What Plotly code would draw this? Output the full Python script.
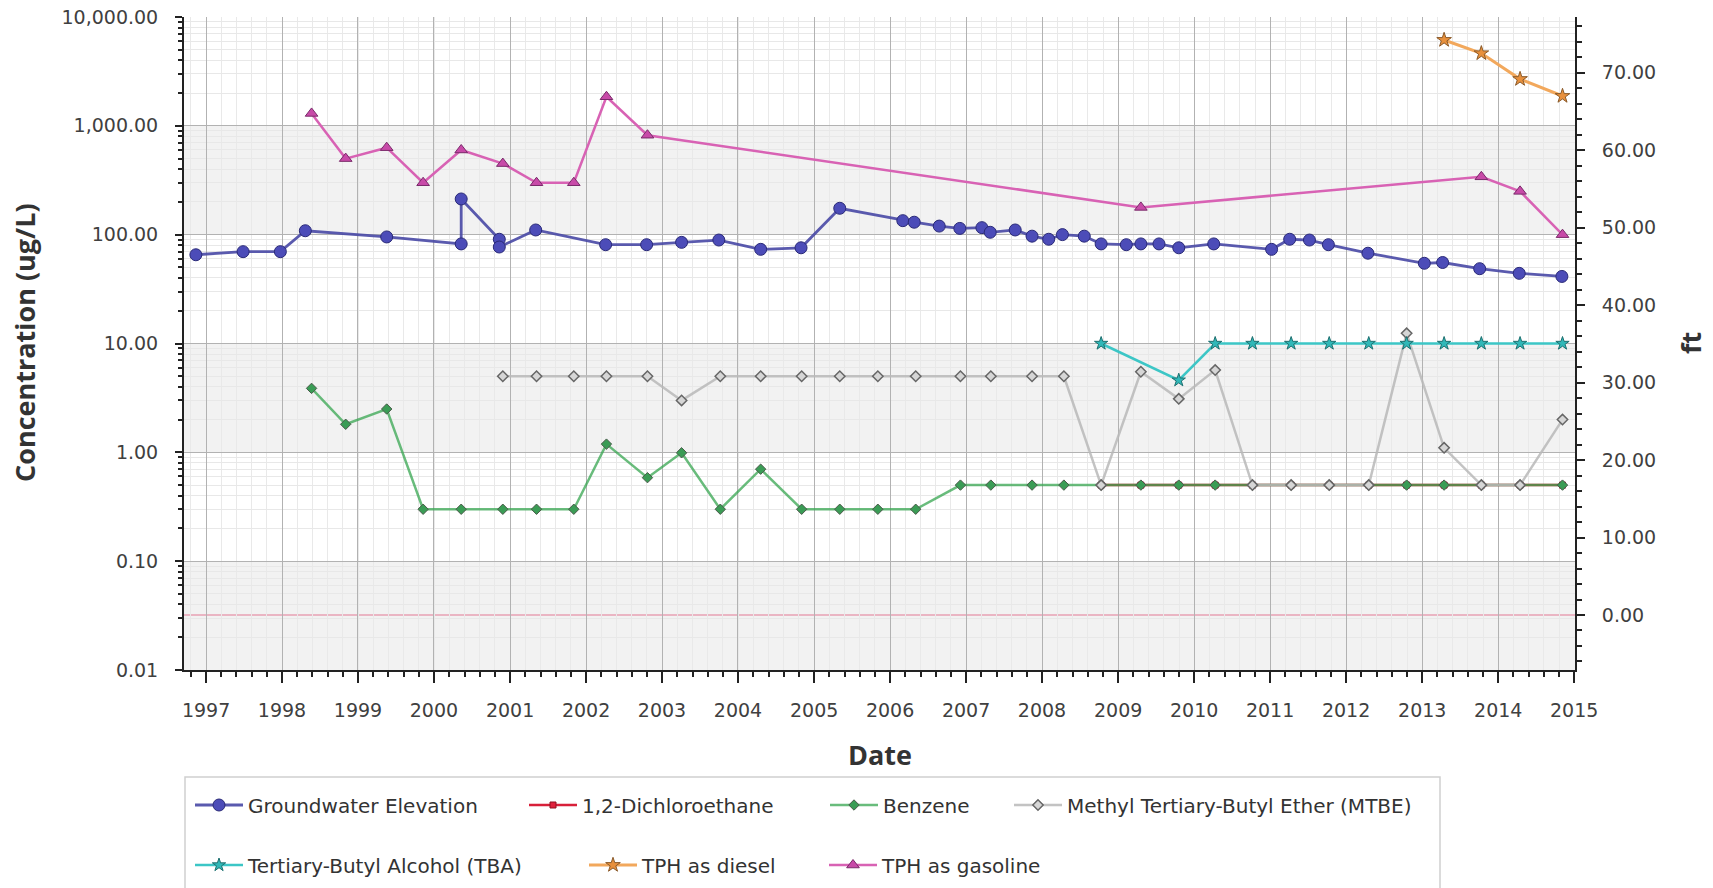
import plotly.graph_objects as go

# ---------------- data ----------------
gw_dates = ["1996-11-13", "1997-06-28", "1997-12-24", "1998-04-23", "1999-05-19",
            "2000-05-11", "2000-05-11", "2000-11-10", "2000-11-10", "2001-05-04",
            "2002-04-05", "2002-10-19", "2003-04-05", "2003-10-01", "2004-04-19",
            "2004-10-30", "2005-05-04", "2006-03-03", "2006-04-27", "2006-08-25",
            "2006-12-02", "2007-03-18", "2007-04-27", "2007-08-25", "2007-11-14",
            "2008-02-02", "2008-04-08", "2008-07-22", "2008-10-11", "2009-02-09",
            "2009-04-20", "2009-07-16", "2009-10-19", "2010-04-05", "2011-01-08",
            "2011-04-05", "2011-07-09", "2011-10-08", "2012-04-15", "2013-01-11",
            "2013-04-09", "2013-10-04", "2014-04-12", "2014-11-03"]
gw_ft = [46.5, 46.9, 46.9, 49.6, 48.8,
         47.9, 53.7, 48.5, 47.5, 49.7,
         47.8, 47.8, 48.1, 48.4, 47.2,
         47.4, 52.5, 50.9, 50.7, 50.2,
         49.9, 50.0, 49.4, 49.7, 48.9,
         48.5, 49.1, 48.9, 47.9, 47.8,
         47.9, 47.9, 47.4, 47.9, 47.2,
         48.5, 48.4, 47.8, 46.7, 45.4,
         45.5, 44.7, 44.1, 43.7]

benzene_dates = ["1998-05-23", "1998-11-03", "1999-05-19", "1999-11-10", "2000-05-11",
                 "2000-11-27", "2001-05-08", "2001-11-03", "2002-04-09", "2002-10-23",
                 "2003-04-05", "2003-10-08", "2004-04-19", "2004-11-02", "2005-05-04",
                 "2005-11-03", "2006-05-04", "2006-12-05", "2007-04-30", "2007-11-14",
                 "2008-04-15", "2008-10-11", "2009-04-20", "2009-10-19", "2010-04-12",
                 "2010-10-08", "2011-04-12", "2011-10-12", "2012-04-19", "2012-10-18",
                 "2013-04-16", "2013-10-12", "2014-04-16", "2014-11-06"]
benzene = [3.87, 1.81, 2.50, 0.30, 0.30,
           0.30, 0.30, 0.30, 1.19, 0.585,
           0.99, 0.30, 0.70, 0.30, 0.30,
           0.30, 0.30, 0.5, 0.5, 0.5,
           0.5, 0.5, 0.5, 0.5, 0.5,
           0.5, 0.5, 0.5, 0.5, 0.5,
           0.5, 0.5, 0.5, 0.5]

dca_dates = ["2008-10-11", "2009-04-20", "2009-10-19", "2010-04-12", "2010-10-08",
             "2011-04-12", "2011-10-12", "2012-04-19", "2012-10-18", "2013-04-16",
             "2013-10-12", "2014-04-16", "2014-11-06"]
dca = [0.5, 0.5, 0.5, 0.5, 0.5, 0.5, 0.5, 0.5, 0.5, 0.5, 0.5, 0.5, 0.5]

mtbe_dates = ["2000-11-27", "2001-05-08", "2001-11-03", "2002-04-09", "2002-10-23",
              "2003-04-05", "2003-10-08", "2004-04-19", "2004-11-02", "2005-05-04",
              "2005-11-03", "2006-05-04", "2006-12-05", "2007-04-30", "2007-11-14",
              "2008-04-15", "2008-10-11", "2009-04-20", "2009-10-19", "2010-04-12",
              "2010-10-08", "2011-04-12", "2011-10-12", "2012-04-19", "2012-10-18",
              "2013-04-16", "2013-10-12", "2014-04-16", "2014-11-06"]
mtbe = [5.0, 5.0, 5.0, 5.0, 5.0,
        3.0, 5.0, 5.0, 5.0, 5.0,
        5.0, 5.0, 5.0, 5.0, 5.0,
        5.0, 0.5, 5.5, 3.1, 5.7,
        0.5, 0.5, 0.5, 0.5, 12.4,
        1.1, 0.5, 0.5, 2.0]

tba_dates = ["2008-10-11", "2009-10-19", "2010-04-12", "2010-10-08", "2011-04-12",
             "2011-10-12", "2012-04-19", "2012-10-18", "2013-04-16", "2013-10-12",
             "2014-04-16", "2014-11-06"]
tba = [10.0, 4.6, 10.0, 10.0, 10.0, 10.0, 10.0, 10.0, 10.0, 10.0, 10.0, 10.0]

diesel_dates = ["2013-04-16", "2013-10-12", "2014-04-16", "2014-11-06"]
diesel = [6150, 4640, 2690, 1880]

gasoline_dates = ["1998-05-23", "1998-11-03", "1999-05-19", "1999-11-10", "2000-05-11",
                  "2000-11-27", "2001-05-08", "2001-11-03", "2002-04-09", "2002-10-23",
                  "2009-04-20", "2013-10-12", "2014-04-16", "2014-11-06"]
gasoline = [1300, 500, 630, 300, 600,
            450, 300, 300, 1850, 820,
            178, 340, 250, 100]

# ---------------- figure ----------------
W, H = 1713, 888
L, R, T, B = 184, 138, 17, 218
PW, PH = W - L - R, H - T - B


def px_x(x):
    return (x - L) / PW


def px_y(y):
    return (H - B - y) / PH


fig = go.Figure()

series = [
    dict(name="Groundwater Elevation", x=gw_dates, y=gw_ft, yaxis="y2",
         line=dict(color="rgba(72,72,165,0.9)", width=2.8),
         marker=dict(symbol="circle", size=12, color="#4c4cb8",
                     line=dict(color="#2a2a78", width=1))),
    dict(name="1,2-Dichloroethane", x=dca_dates, y=dca, yaxis="y",
         line=dict(color="#d8203a", width=2.5),
         marker=dict(symbol="square", size=6, color="#e0203c",
                     line=dict(color="#901020", width=1))),
    dict(name="Benzene", x=benzene_dates, y=benzene, yaxis="y",
         line=dict(color="rgba(55,165,80,0.75)", width=2.5),
         marker=dict(symbol="diamond", size=8, color="#3a9c55",
                     line=dict(color="#4a5a4a", width=1))),
    dict(name="Methyl Tertiary-Butyl Ether (MTBE)", x=mtbe_dates, y=mtbe, yaxis="y",
         line=dict(color="rgba(185,185,185,0.85)", width=2.5),
         marker=dict(symbol="diamond", size=8, color="#d6d6d6",
                     line=dict(color="#666666", width=1.5))),
    dict(name="Tertiary-Butyl Alcohol (TBA)", x=tba_dates, y=tba, yaxis="y",
         line=dict(color="#3cc6c6", width=2.5),
         marker=dict(symbol="star", size=10, color="#30b8b8",
                     line=dict(color="#1d6f6f", width=1))),
    dict(name="TPH as diesel", x=diesel_dates, y=diesel, yaxis="y",
         line=dict(color="#f2a85c", width=3),
         marker=dict(symbol="star", size=11, color="#e8903c",
                     line=dict(color="#8a5a2a", width=1))),
    dict(name="TPH as gasoline", x=gasoline_dates, y=gasoline, yaxis="y",
         line=dict(color="#d862b4", width=2.5),
         marker=dict(symbol="triangle-up", size=11, color="#c84aa8",
                     line=dict(color="#7a2a6a", width=1))),
]

# legend placement (pixel positions of each entry)
legend_pos = [(190, 805), (524, 805), (825, 805), (1009, 805),
              (190, 865), (584, 865), (824, 865)]

legend_layouts = {}
for i, s in enumerate(series):
    lid = "legend" if i == 0 else f"legend{i + 1}"
    fig.add_trace(go.Scatter(
        x=s["x"], y=s["y"], name=s["name"], mode="lines+markers",
        yaxis=s["yaxis"], line=s["line"], marker=s["marker"],
        legend=lid, showlegend=True))
    lx, ly = legend_pos[i]
    legend_layouts[lid] = dict(
        orientation="h", x=px_x(lx), y=px_y(ly), xanchor="left", yanchor="middle",
        bgcolor="rgba(0,0,0,0)", borderwidth=0, itemwidth=48,
        font=dict(family="DejaVu Sans", size=20, color="#333333"))

tickfont = dict(family="DejaVu Sans", size=19, color="#404040")
title_font = dict(family="Open Sans", size=27, color="#333333", weight="bold")

shapes = []
# alternating decade bands
for y0, y1 in [(0, 1 / 6), (2 / 6, 3 / 6), (4 / 6, 5 / 6)]:
    shapes.append(dict(type="rect", xref="paper", yref="paper", x0=0, x1=1, y0=y0, y1=y1,
                       fillcolor="#f2f2f2", line=dict(width=0), layer="below"))
# reference line at 0 ft
shapes.append(dict(type="line", xref="paper", yref="y2", x0=0, x1=1, y0=0, y1=0,
                   line=dict(color="rgba(222,90,125,0.8)", width=1), layer="between"))
# legend box
shapes.append(dict(type="rect", xref="paper", yref="paper",
                   x0=px_x(185), x1=px_x(1440), y0=px_y(777), y1=px_y(905),
                   fillcolor="white", line=dict(color="#d0d0d0", width=1.5), layer="below"))

annotations = [
    dict(text="Concentration (ug/L)", xref="paper", yref="paper", x=px_x(24), y=px_y(343),
         textangle=-90, showarrow=False, xanchor="center", yanchor="middle", font=title_font),
    dict(text="Date", xref="paper", yref="paper", x=0.5, y=px_y(754),
         showarrow=False, xanchor="center", yanchor="middle", font=title_font),
    dict(text="ft", xref="paper", yref="paper", x=px_x(1690), y=px_y(343),
         textangle=-90, showarrow=False, xanchor="center", yanchor="middle", font=title_font),
]

fig.update_layout(
    width=W, height=H,
    margin=dict(l=L, r=R, t=T, b=B, autoexpand=False),
    paper_bgcolor="white", plot_bgcolor="rgba(0,0,0,0)",
    showlegend=True,
    shapes=shapes, annotations=annotations,
    xaxis=dict(
        type="date", range=["1996-09-17", "2015-01-05"],
        dtick="M12", tick0="1997-01-01", tickformat="%Y",
        ticks="outside", ticklen=11, tickwidth=1.5, tickcolor="#222222",
        showline=True, linecolor="#222222", linewidth=2,
        showgrid=True, gridcolor="#b2b2b2", gridwidth=1, zeroline=False,
        tickfont=tickfont, ticklabelstandoff=11,
        minor=dict(ticks="outside", ticklen=5, tickcolor="#222222",
                   dtick=73.05 * 86400000, tick0="1997-01-01",
                   showgrid=True, gridcolor="#e9e9e9"),
    ),
    yaxis=dict(
        type="log", range=[-2, 4], dtick=1, tickformat=",.2f",
        ticks="outside", ticklen=7, tickwidth=1.5, tickcolor="#222222",
        showline=True, linecolor="#222222", linewidth=2,
        showgrid=True, gridcolor="#b2b2b2", gridwidth=1, zeroline=False,
        tickfont=tickfont, ticklabelstandoff=13,
        minor=dict(ticks="outside", ticklen=4, tickcolor="#222222",
                   showgrid=True, gridcolor="#e8e8e8"),
    ),
    yaxis2=dict(
        overlaying="y", side="right", range=[-7.10, 77.19],
        dtick=10, tick0=0, tickformat=".2f",
        ticks="outside", ticklen=8, tickwidth=1.5, tickcolor="#222222",
        showline=True, linecolor="#222222", linewidth=2,
        showgrid=False, zeroline=False,
        tickfont=tickfont, ticklabelstandoff=13,
        minor=dict(ticks="outside", ticklen=5, tickcolor="#222222", dtick=2, showgrid=False),
    ),
    **legend_layouts,
)

fig.write_html("out.html")
